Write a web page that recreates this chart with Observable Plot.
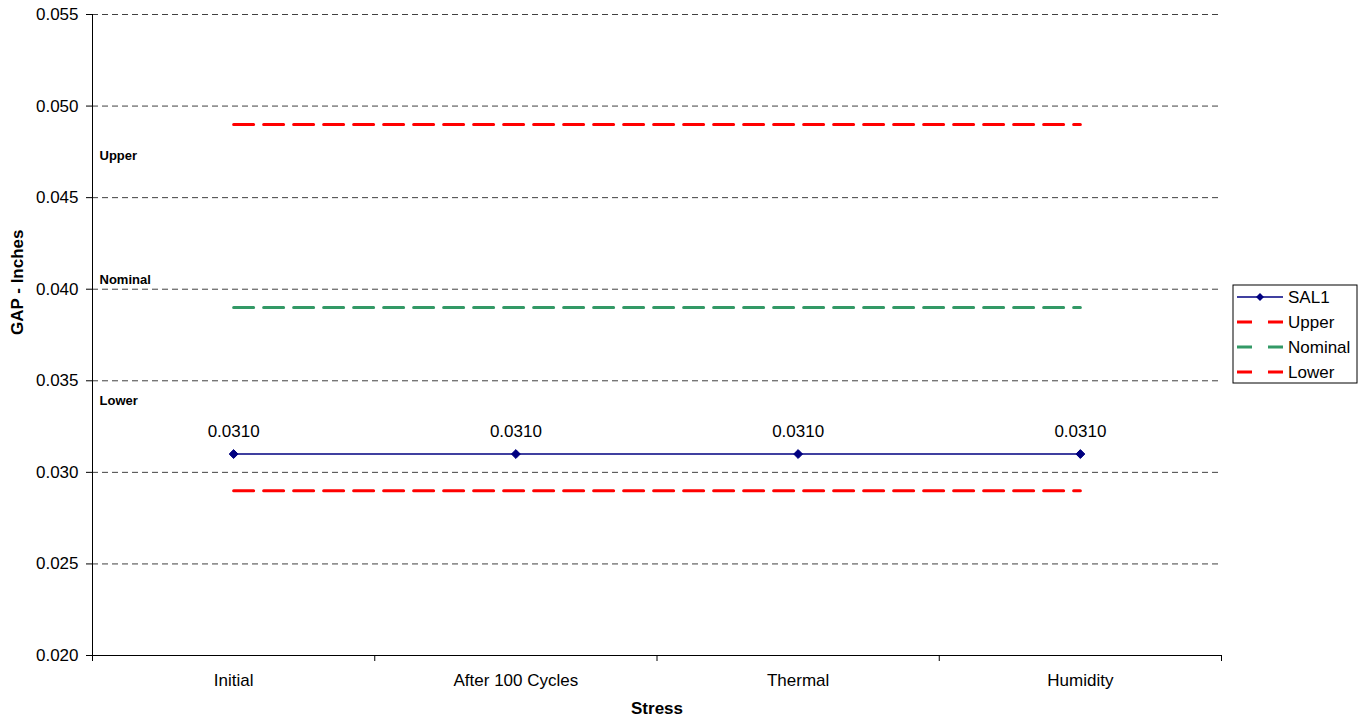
<!DOCTYPE html>
<html>
<head>
<meta charset="utf-8">
<script src="https://cdn.jsdelivr.net/npm/d3@7"></script>
<script src="https://cdn.jsdelivr.net/npm/@observablehq/plot@0.6"></script>
<style>
  html, body { margin: 0; padding: 0; background: #fff; }
  #chart { width: 1367px; height: 721px; }
  svg { font-family: "Liberation Sans", Arial, sans-serif; }
</style>
</head>
<body>
<div id="chart"></div>
<script>
// Stress stages along the x axis
const categories = ["Initial", "After 100 Cycles", "Thermal", "Humidity"];

// Measured gap (inches) for sample SAL1
const sal1 = [0.0310, 0.0310, 0.0310, 0.0310];

// Specification limits
const upper = [0.049, 0.049, 0.049, 0.049];
const nominal = [0.039, 0.039, 0.039, 0.039];
const lower = [0.029, 0.029, 0.029, 0.029];

// Y axis ticks
const yTicks = [0.020, 0.025, 0.030, 0.035, 0.040, 0.045, 0.050, 0.055];

// Side notes at the left edge of the plot
const noteLabels = ["Upper", "Nominal", "Lower"];
const noteY = [0.0473, 0.0405, 0.0339];

const toRows = (vals) => vals.map((v, i) => ({i, v}));
const salRows = toRows(sal1);
const notes = noteLabels.map((t, k) => ({t, y: noteY[k]}));

const series = [
  {name: "SAL1", rows: salRows, color: "#000080", dash: null, width: 1.5, marker: true},
  {name: "Upper", rows: toRows(upper), color: "#ff0000", dash: "20,10", width: 3},
  {name: "Nominal", rows: toRows(nominal), color: "#339966", dash: "20,10", width: 3},
  {name: "Lower", rows: toRows(lower), color: "#ff0000", dash: "20,10", width: 3}
];

const chart = Plot.plot({
  width: 1367,
  height: 721,
  marginLeft: 92,
  marginRight: 146,
  marginTop: 14,
  marginBottom: 66,
  style: {fontFamily: "Liberation Sans, Arial, sans-serif", fontSize: "17px", color: "#000", background: "#fff"},
  x: {type: "linear", domain: [-0.5, categories.length - 0.5]},
  y: {domain: [0.020, 0.055]},
  marks: [
    Plot.gridY(yTicks.slice(1), {stroke: "#000", strokeOpacity: 0.75, strokeDasharray: "6,4"}),
    Plot.axisY({ticks: yTicks, tickFormat: ".3f", tickSize: 6, tickPadding: 8, label: null, fontSize: 17}),
    Plot.axisX({ticks: d3.range(-0.5, categories.length, 1), tickSize: 6, tickFormat: () => "", label: null}),
    Plot.axisX({ticks: d3.range(categories.length), tickSize: 0, tickPadding: 18, tickFormat: (i) => categories[i], label: null, fontSize: 17}),
    Plot.ruleX([-0.5], {stroke: "#000"}),
    Plot.ruleY([0.020], {stroke: "#000"}),
    ...series.slice(1).map((s) =>
      Plot.line(s.rows, {x: "i", y: "v", stroke: s.color, strokeWidth: s.width, strokeDasharray: s.dash})
    ),
    Plot.line(salRows, {x: "i", y: "v", stroke: "#000080", strokeWidth: 1.5}),
    Plot.dot(salRows, {x: "i", y: "v", symbol: "diamond2", r: 4, fill: "#000080", stroke: "#000080", strokeWidth: 1}),
    Plot.text(salRows, {x: "i", y: "v", text: (d) => d3.format(".4f")(d.v), dy: -22, fontSize: 17, fill: "#000"}),
    Plot.text(notes, {y: "y", text: "t", frameAnchor: "left", dx: 7, textAnchor: "start", fontWeight: "bold", fontSize: 13, fill: "#000"}),
    Plot.text(["Stress"], {frameAnchor: "bottom", dy: 58, fontWeight: "bold", fontSize: 17, fill: "#000"}),
    Plot.text(["GAP - Inches"], {frameAnchor: "left", dx: -75, rotate: -90, fontWeight: "bold", fontSize: 17, fill: "#000"})
  ]
});

document.getElementById("chart").appendChild(chart);

// Legend box on the right side
const svg = d3.select(chart);
const lg = svg.append("g").attr("transform", "translate(1233,285)").attr("text-anchor", "start");
lg.append("rect").attr("width", 124).attr("height", 98)
  .attr("fill", "#fff").attr("stroke", "#000").attr("stroke-width", 1);
series.forEach((s, k) => {
  const cy = 12 + k * 25;
  const row = lg.append("g").attr("transform", `translate(0,${cy})`);
  row.append("line").attr("x1", 4).attr("x2", 50).attr("y1", 0).attr("y2", 0)
    .attr("stroke", s.color).attr("stroke-width", s.width)
    .attr("stroke-dasharray", s.dash ? "15,16" : null);
  if (s.marker) {
    row.append("path").attr("d", d3.symbol(d3.symbolDiamond2, 40)()).attr("transform", "translate(27,0)")
      .attr("fill", s.color);
  }
  row.append("text").attr("x", 55).attr("y", 0).attr("dy", "0.35em")
    .attr("font-size", 17).attr("fill", "#000").attr("text-anchor", "start").text(s.name);
});
</script>
</body>
</html>
